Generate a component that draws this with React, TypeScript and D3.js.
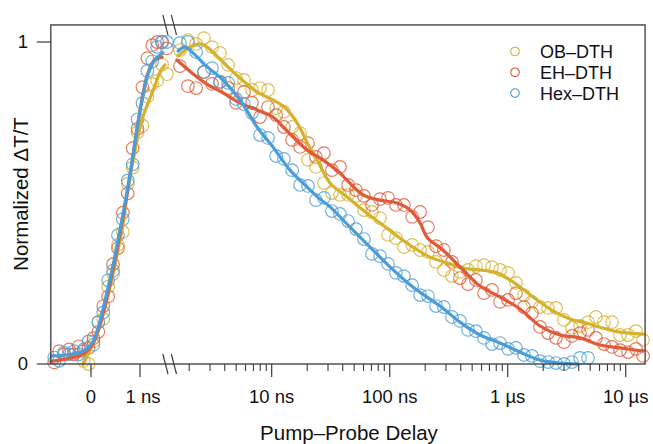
import React from 'react';
import * as d3 from 'd3';

// ---- axis configuration (ns) ----
const LIN_MIN = -0.82;
const LIN_MAX = 1.6;
const LOG_MAX = 14600;
const Y_MAX = 1.053;

const seriesNames = ['OB–DTH', 'EH–DTH', 'Hex–DTH'];
const seriesColors = ['#D6B12C', '#E05A38', '#4B9DD8'];

// ---- measured points: linear region (ns) ----
const linDelays = [-0.75, -0.65, -0.55, -0.45, -0.35, -0.25, -0.15, -0.05, 0.05, 0.15, 0.25, 0.35, 0.45, 0.55, 0.65, 0.75, 0.85, 0.95, 1.05, 1.15, 1.25, 1.35, 1.45, 1.55];
const obLin = [null, null, null, null, null, null, 0.01, 0.0, 0.07, 0.13, 0.14, 0.24, 0.28, 0.37, 0.41, 0.56, 0.61, 0.72, 0.74, 0.83, 0.87, 0.88, 0.93, 0.90];
const ehLin = [0.005, 0.04, 0.03, 0.045, 0.03, 0.055, 0.04, 0.05, 0.08, 0.10, 0.18, 0.21, 0.31, 0.36, 0.47, 0.53, 0.67, 0.73, 0.86, 0.95, 0.99, 1.0, 1.0, 0.98];
const hexLin = [0.02, 0.01, 0.035, 0.03, 0.04, 0.03, 0.045, 0.07, 0.06, 0.13, 0.16, 0.26, 0.29, 0.40, 0.45, 0.57, 0.62, 0.76, 0.81, 0.91, 0.94, 0.985, 1.0, 1.0];

// ---- measured points: log region (ns) ----
const logDelays = [1.67, 1.95, 2.29, 2.67, 3.12, 3.65, 4.27, 4.99, 5.82, 6.81, 7.96, 9.31, 10.9, 12.7, 14.9, 17.4, 20.3, 23.7, 27.7, 32.4, 37.9, 44.4, 51.8, 60.5, 70.8, 82.8, 96.8, 113, 132, 155, 181, 211, 247, 288, 337, 394, 461, 538, 630, 736, 861, 1007, 1175, 1374, 1607, 1879, 2198, 2564, 3000, 3508, 4102, 4797, 5598, 6546, 7656, 8954, 10470, 12220, 14030];
const obLog = [0.975, 1.006, 0.994, 1.012, 0.984, 0.966, 0.929, 0.888, 0.882, 0.851, 0.857, 0.851, 0.795, 0.783, 0.736, 0.717, 0.634, 0.612, 0.562, 0.531, 0.525, 0.525, 0.522, 0.478, 0.472, 0.453, 0.401, 0.391, 0.363, 0.370, 0.354, 0.348, 0.317, 0.292, 0.273, 0.286, 0.292, 0.304, 0.307, 0.301, 0.292, 0.283, 0.252, 0.214, 0.193, 0.177, 0.174, 0.174, 0.137, 0.112, 0.118, 0.130, 0.146, 0.130, 0.130, 0.090, 0.090, 0.102, 0.075];
const ehLog = [0.925, 0.863, 0.857, 0.907, 0.870, 0.876, 0.857, 0.811, 0.845, 0.811, 0.767, 0.798, 0.773, 0.736, 0.696, 0.674, 0.686, 0.643, 0.655, 0.602, 0.612, 0.556, 0.540, 0.522, 0.494, 0.512, 0.516, 0.494, 0.494, 0.457, 0.472, 0.425, 0.366, 0.354, 0.317, 0.267, 0.248, 0.261, 0.220, 0.230, 0.193, 0.199, 0.220, 0.177, 0.158, 0.115, 0.096, 0.081, 0.068, 0.087, 0.096, 0.106, 0.081, 0.062, 0.053, 0.043, 0.037, 0.047, 0.025];
const hexLog = [0.997, 1.0, 0.969, 0.907, 0.919, 0.876, 0.873, 0.823, 0.807, 0.78, 0.711, 0.702, 0.646, 0.637, 0.602, 0.556, 0.553, 0.509, 0.516, 0.475, 0.466, 0.444, 0.419, 0.388, 0.342, 0.335, 0.311, 0.283, 0.273, 0.245, 0.214, 0.211, 0.18, 0.177, 0.146, 0.134, 0.106, 0.102, 0.081, 0.062, 0.065, 0.047, 0.05, 0.028, 0.025, 0.009, 0.006, 0.003, 0.0, 0.006, 0.019, 0.019, null, null, null, null, null, null, null];

// ---- smoothed fits [delay ns, value] ----
const obFitLin = [[-0.16, 0], [-0.02, 0.043], [0.12, 0.09], [0.27, 0.168], [0.41, 0.255], [0.53, 0.339], [0.65, 0.43], [0.755, 0.545], [0.9, 0.665], [1.04, 0.758], [1.27, 0.851], [1.41, 0.907], [1.51, 0.929]];
const obFitLog = [[1.61, 0.957], [2.03, 0.984], [2.47, 0.994], [2.84, 0.984], [3.86, 0.938], [5.39, 0.888], [7.51, 0.845], [10.25, 0.82], [12.5, 0.801], [15.2, 0.767], [17.4, 0.733], [19.9, 0.689], [24.3, 0.634], [31.2, 0.562], [43.4, 0.519], [59.4, 0.478], [82.8, 0.438], [115, 0.398], [157, 0.363], [220, 0.332], [307, 0.314], [419, 0.298], [583, 0.292], [812, 0.283], [1047, 0.261], [1271, 0.239], [1770, 0.199], [2418, 0.165], [3373, 0.14], [4650, 0.127], [6370, 0.112], [8950, 0.099], [14030, 0.093]];
const ehFitLin = [[-0.8, 0.009], [-0.5, 0.016], [-0.2, 0.028], [0, 0.053], [0.15, 0.106], [0.3, 0.189], [0.45, 0.292], [0.55, 0.37], [0.65, 0.453], [0.75, 0.54], [0.85, 0.64], [0.95, 0.742], [1.05, 0.829], [1.15, 0.898], [1.3, 0.944], [1.45, 0.953]];
const ehFitLog = [[1.57, 0.944], [2.11, 0.904], [2.72, 0.873], [3.86, 0.842], [5.39, 0.811], [7.51, 0.789], [10.25, 0.767], [12.5, 0.736], [15.2, 0.705], [19.9, 0.665], [27.1, 0.634], [37.9, 0.593], [43.4, 0.571], [59.4, 0.525], [82.8, 0.509], [115, 0.5], [149, 0.478], [181, 0.438], [207, 0.394], [282, 0.354], [419, 0.292], [583, 0.242], [861, 0.208], [1271, 0.171], [1879, 0.118], [2775, 0.09], [4100, 0.081], [6054, 0.059], [8950, 0.05], [14030, 0.04]];
const hexFitLin = [[-0.8, 0.025], [-0.5, 0.028], [-0.2, 0.037], [0, 0.059], [0.15, 0.115], [0.3, 0.205], [0.45, 0.307], [0.55, 0.385], [0.65, 0.463], [0.75, 0.547], [0.85, 0.64], [0.95, 0.739], [1.05, 0.826], [1.15, 0.894], [1.3, 0.944], [1.47, 0.966]];
const hexFitLog = [[1.61, 0.972], [1.84, 0.984], [2.24, 0.96], [2.72, 0.929], [3.86, 0.882], [5.39, 0.82], [7.51, 0.736], [10.25, 0.674], [14.3, 0.602], [19.9, 0.55], [25.7, 0.512], [31.2, 0.488], [46.1, 0.425], [68.1, 0.363], [101, 0.301], [157, 0.239], [267, 0.18], [394, 0.13], [583, 0.09], [861, 0.065], [1271, 0.037], [1879, 0.012], [2775, 0.003], [3940, 0]];

const linTicks = [0, 1];
const linTickLabels = ['0', '1 ns'];
const logMajorTicks = [10, 100, 1000, 10000];
const logTickLabels = ['10 ns', '100 ns', '1 µs', '10 µs'];
const yTicks = [0, 1];
const yTickLabels = ['0', '1'];

export default function App() {
  const xLin = d3.scaleLinear().domain([0, 1]).range([91, 140]);
  const xLog = d3.scaleLog().domain([10, 10000]).range([271.7, 625.7]);
  const y = d3.scaleLinear().domain([0, 1]).range([364, 42]);

  const left = xLin(LIN_MIN);
  const right = xLog(LOG_MAX);
  const top = y(Y_MAX);
  const bottom = y(0);
  const breakX = xLin(LIN_MAX);

  const minorTicks = d3.scaleLog().domain([1.8, LOG_MAX]).ticks().filter((t) => !logMajorTicks.includes(t));

  const lineLin = d3.line<number[]>().x((d) => xLin(d[0])).y((d) => y(d[1])).curve(d3.curveCatmullRom.alpha(0.5));
  const lineLog = d3.line<number[]>().x((d) => xLog(d[0])).y((d) => y(d[1])).curve(d3.curveCatmullRom.alpha(0.5));

  const series = [
    { lin: obLin, log: obLog, fitLin: obFitLin, fitLog: obFitLog, color: seriesColors[0] },
    { lin: ehLin, log: ehLog, fitLin: ehFitLin, fitLog: ehFitLog, color: seriesColors[1] },
    { lin: hexLin, log: hexLog, fitLin: hexFitLin, fitLog: hexFitLog, color: seriesColors[2] },
  ];

  const font = "'Liberation Sans', Arial, Helvetica, sans-serif";
  const axisColor = '#3a3a3a';
  const fs = 18.5;
  const fsBig = 20.5;
  const fsLegend = 18;

  const breakMark = (cx: number, cy: number, key: string) => (
    <line key={key} x1={cx - 2.6} y1={cy - 10} x2={cx + 2.6} y2={cy + 10} stroke={axisColor} strokeWidth={1.2} />
  );

  return (
    <svg width={653} height={444} style={{ position: 'absolute', left: 0, top: 0, background: '#fff' }} fontFamily={font}>
      <rect x={0} y={0} width={653} height={444} fill="#fff" />
      {/* circles */}
      {series.map((s, si) => (
        <g key={'c' + si} fill="none" stroke={s.color} strokeWidth={1.2} strokeOpacity={0.8}>
          {linDelays.map((t, i) => (s.lin[i] == null ? null : <circle key={'l' + i} cx={xLin(t)} cy={y(s.lin[i] as number)} r={6.3} />))}
          {logDelays.map((t, i) => (s.log[i] == null ? null : <circle key={'g' + i} cx={xLog(t)} cy={y(s.log[i] as number)} r={6.3} />))}
        </g>
      ))}
      {/* fits */}
      {series.map((s, si) => (
        <g key={'f' + si} fill="none" stroke={s.color} strokeWidth={3.2} strokeLinecap="round" strokeLinejoin="round">
          <path d={lineLin(s.fitLin) || ''} />
          <path d={lineLog(s.fitLog) || ''} />
        </g>
      ))}
      {/* frame */}
      <rect x={left} y={top} width={right - left} height={bottom - top} fill="none" stroke={axisColor} strokeWidth={1.3} />
      {/* break marks */}
      {breakMark(breakX - 4, top, 'bt1')}
      {breakMark(breakX + 4.5, top, 'bt2')}
      {breakMark(breakX - 4, bottom, 'bb1')}
      {breakMark(breakX + 4.5, bottom, 'bb2')}
      {/* x ticks */}
      {linTicks.map((t, i) => (
        <g key={'lt' + i}>
          <line x1={xLin(t)} x2={xLin(t)} y1={bottom} y2={bottom + 13} stroke={axisColor} strokeWidth={1.2} />
          <text x={xLin(t) + (i === 1 ? 3 : 0)} y={403} textAnchor="middle" fontSize={fs} fill="#111">{linTickLabels[i]}</text>
        </g>
      ))}
      {logMajorTicks.map((t, i) => (
        <g key={'gt' + i}>
          <line x1={xLog(t)} x2={xLog(t)} y1={bottom} y2={bottom + 13} stroke={axisColor} strokeWidth={1.2} />
          <text x={xLog(t)} y={403} textAnchor="middle" fontSize={fs} fill="#111">{logTickLabels[i]}</text>
        </g>
      ))}
      {minorTicks.map((t, i) => (
        <line key={'mt' + i} x1={xLog(t)} x2={xLog(t)} y1={bottom} y2={bottom + 7} stroke={axisColor} strokeWidth={1.1} />
      ))}
      {/* y ticks */}
      {yTicks.map((v, i) => (
        <g key={'yt' + i}>
          <line x1={left - 14} x2={left} y1={y(v)} y2={y(v)} stroke={axisColor} strokeWidth={1.2} />
          <text x={28} y={y(v)} dy="0.35em" textAnchor="end" fontSize={fs} fill="#111">{yTickLabels[i]}</text>
        </g>
      ))}
      {/* axis titles */}
      <text x={349} y={440} textAnchor="middle" fontSize={fsBig} fill="#111">Pump–Probe Delay</text>
      <text transform={`translate(28, 194) rotate(-90)`} textAnchor="middle" fontSize={fsBig} fill="#111">Normalized ΔT/T</text>
      {/* legend */}
      {seriesNames.map((n, i) => (
        <g key={'lg' + i} transform={`translate(515, ${51.5 + i * 20.8})`}>
          <circle cx={0} cy={0} r={4.3} fill="none" stroke={seriesColors[i]} strokeWidth={1.1} />
          <text x={25} y={0} dy="0.36em" fontSize={fsLegend} fill="#111">{n}</text>
        </g>
      ))}
    </svg>
  );
}
